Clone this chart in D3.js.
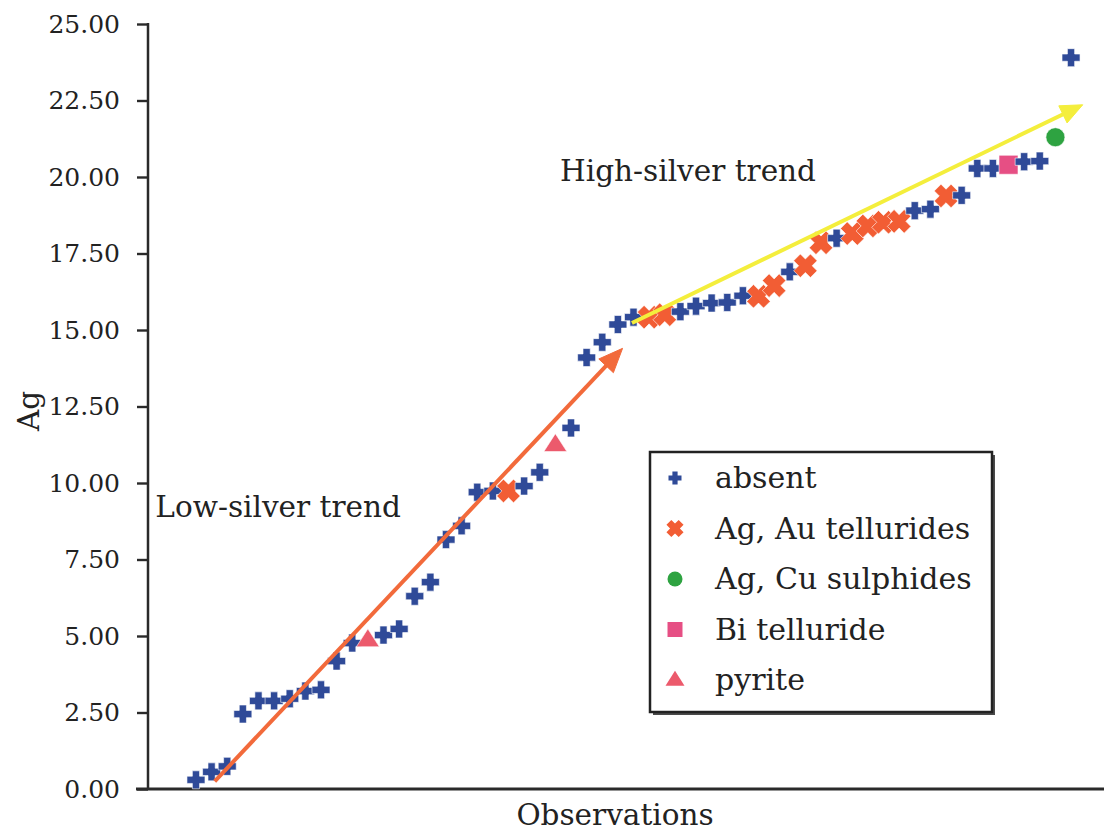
<!DOCTYPE html>
<html>
<head>
<meta charset="utf-8">
<script src="https://cdn.jsdelivr.net/npm/d3@7"></script>
<style>
  html, body { margin: 0; padding: 0; background: #ffffff; }
  svg { display: block; }
  text { font-family: "DejaVu Serif", "Liberation Serif", serif; fill: #222222; }
</style>
</head>
<body>
<svg id="chart" width="1104" height="832"></svg>
<script>
// Observation number (sorted by Ag content)
const observations = d3.range(1, 58);

// Ag content per observation
const agValues = [
  0.30, 0.56, 0.74, 2.45, 2.88, 2.88, 2.95, 3.20, 3.24, 4.18,
  4.77, 4.87, 5.03, 5.23, 6.30, 6.76, 8.15, 8.60, 9.70, 9.74,
  9.74, 9.90, 10.35, 11.25, 11.80, 14.10, 14.60, 15.18, 15.42, 15.42,
  15.50, 15.60, 15.78, 15.88, 15.90, 16.12, 16.10, 16.45, 16.90, 17.10,
  17.85, 18.00, 18.15, 18.40, 18.52, 18.55, 18.90, 18.95, 19.38, 19.40,
  20.28, 20.28, 20.40, 20.50, 20.52, 21.30, 23.90
];

// Associated mineral phase per observation
const mineralPhase = [
  "absent", "absent", "absent", "absent", "absent", "absent", "absent", "absent", "absent", "absent",
  "absent", "pyrite", "absent", "absent", "absent", "absent", "absent", "absent", "absent", "absent",
  "Ag, Au tellurides", "absent", "absent", "pyrite", "absent", "absent", "absent", "absent", "absent", "Ag, Au tellurides",
  "Ag, Au tellurides", "absent", "absent", "absent", "absent", "absent", "Ag, Au tellurides", "Ag, Au tellurides", "absent", "Ag, Au tellurides",
  "Ag, Au tellurides", "absent", "Ag, Au tellurides", "Ag, Au tellurides", "Ag, Au tellurides", "Ag, Au tellurides", "absent", "absent", "Ag, Au tellurides", "absent",
  "absent", "absent", "Bi telluride", "absent", "absent", "Ag, Cu sulphides", "absent"
];

// Legend order
const phaseNames = ["absent", "Ag, Au tellurides", "Ag, Cu sulphides", "Bi telluride", "pyrite"];

// Y axis ticks
const yTicks = [0, 2.5, 5, 7.5, 10, 12.5, 15, 17.5, 20, 22.5, 25];

// Trend arrows: [start observation, start Ag], [end observation, end Ag]
const lowTrend = [[2.2, 0.25], [28.3, 14.4]];
const highTrend = [[28.9, 15.23], [57.75, 22.36]];

// Trend labels: [observation, Ag]
const lowLabelAt = [-1.6, 8.88];
const highLabelAt = [24.3, 19.88];

// ---- styling ----
const phaseStyle = {
  "absent":            { shape: "plus",     color: "#2f4a98", size: 18, legendSize: 13 },
  "Ag, Au tellurides": { shape: "cross",    color: "#f25d34", size: 22, legendSize: 16 },
  "Ag, Cu sulphides":  { shape: "circle",   color: "#2ea341", size: 19, legendSize: 15 },
  "Bi telluride":      { shape: "square",   color: "#e64f84", size: 19, legendSize: 15 },
  "pyrite":            { shape: "triangle", color: "#ec5a6c", size: 23, legendSize: 19 }
};

const svg = d3.select("#chart");

const x = d3.scaleLinear().domain([-2.07, 59.11]).range([148, 1104]);
const y = d3.scaleLinear().domain([0, 25]).range([789, 24]);

// Marker path generator centered on (0,0)
function markerPath(shape, s) {
  const h = s / 2;
  if (shape === "plus" || shape === "cross") {
    const w = s / 5;
    const pts = [
      [-w, -h], [w, -h], [w, -w], [h, -w], [h, w], [w, w],
      [w, h], [-w, h], [-w, w], [-h, w], [-h, -w], [-w, -w]
    ];
    let p = pts;
    if (shape === "cross") {
      const c = Math.SQRT1_2;
      const k = 1.08;
      p = pts.map(([a, b]) => [k * (a * c - b * c), k * (a * c + b * c)]);
    }
    return "M" + p.map(d => d.join(",")).join("L") + "Z";
  }
  if (shape === "square") {
    return `M${-h},${-h}L${h},${-h}L${h},${h}L${-h},${h}Z`;
  }
  if (shape === "triangle") {
    const th = s * 0.78;
    return `M0,${-th * 0.62}L${h},${th * 0.38}L${-h},${th * 0.38}Z`;
  }
  // circle
  return `M${h},0A${h},${h} 0 1,1 ${-h},0A${h},${h} 0 1,1 ${h},0Z`;
}

// ---- axes ----
const yAxis = d3.axisLeft(y)
  .tickValues(yTicks)
  .tickFormat(d3.format(".2f"))
  .tickSize(11)
  .tickPadding(17);

const gy = svg.append("g").attr("transform", "translate(148,0)").call(yAxis);
gy.select(".domain").remove();
gy.selectAll(".tick line").attr("stroke", "#2a2a2a").attr("stroke-width", 2.4);
gy.selectAll(".tick text")
  .style("font-family", "'DejaVu Serif', serif")
  .style("font-size", "25px")
  .attr("fill", "#222222");

// spines: left and bottom
svg.append("line")
  .attr("x1", 148).attr("x2", 148)
  .attr("y1", y(25) - 1).attr("y2", y(0))
  .attr("stroke", "#2a2a2a").attr("stroke-width", 2.5);
svg.append("line")
  .attr("x1", 136).attr("x2", 1104)
  .attr("y1", y(0)).attr("y2", y(0))
  .attr("stroke", "#2a2a2a").attr("stroke-width", 3);

// axis titles
svg.append("text")
  .attr("x", 615).attr("y", 825)
  .attr("text-anchor", "middle")
  .style("font-size", "29.5px")
  .text("Observations");

svg.append("text")
  .attr("transform", "translate(39,411) rotate(-90)")
  .attr("text-anchor", "middle")
  .style("font-size", "29.5px")
  .text("Ag");

// ---- points ----
const points = observations.map((o, i) => ({ obs: o, ag: agValues[i], phase: mineralPhase[i] }));

svg.append("g").selectAll("path")
  .data(points)
  .join("path")
  .attr("transform", d => `translate(${x(d.obs)},${y(d.ag)})`)
  .attr("d", d => markerPath(phaseStyle[d.phase].shape, phaseStyle[d.phase].size))
  .attr("fill", d => phaseStyle[d.phase].color)
  .attr("stroke", "#ffffff")
  .attr("stroke-width", 0.6)
  .attr("stroke-linejoin", "round");

// ---- trend arrows ----
function drawArrow(seg, color, width, headLen, headWidth) {
  const x0 = x(seg[0][0]), y0 = y(seg[0][1]);
  const x1 = x(seg[1][0]), y1 = y(seg[1][1]);
  const dx = x1 - x0, dy = y1 - y0;
  const len = Math.hypot(dx, dy);
  const ux = dx / len, uy = dy / len;
  const bx = x1 - ux * headLen, by = y1 - uy * headLen;
  const g = svg.append("g");
  g.append("line")
    .attr("x1", x0).attr("y1", y0)
    .attr("x2", bx + ux * 2).attr("y2", by + uy * 2)
    .attr("stroke", color).attr("stroke-width", width);
  const px = -uy * headWidth / 2, py = ux * headWidth / 2;
  g.append("path")
    .attr("d", `M${x1},${y1}L${bx + px},${by + py}L${bx - px},${by - py}Z`)
    .attr("fill", color)
    .attr("stroke", color)
    .attr("stroke-width", 1)
    .attr("stroke-linejoin", "round");
}

drawArrow(lowTrend, "#f26a3b", 4, 24, 20);
drawArrow(highTrend, "#f4ee3c", 4, 22, 19);

// ---- trend labels ----
svg.append("text")
  .attr("x", x(lowLabelAt[0])).attr("y", y(lowLabelAt[1]))
  .style("font-size", "29.5px")
  .text("Low-silver trend");

svg.append("text")
  .attr("x", x(highLabelAt[0])).attr("y", y(highLabelAt[1]))
  .style("font-size", "29.5px")
  .text("High-silver trend");

// ---- legend ----
const legend = svg.append("g").attr("transform", "translate(650,452)");
legend.append("rect")
  .attr("x", 3).attr("y", 3).attr("width", 342).attr("height", 260)
  .attr("fill", "#4a4a4a");
legend.append("rect")
  .attr("x", 0).attr("y", 0).attr("width", 342).attr("height", 260)
  .attr("fill", "#ffffff")
  .attr("stroke", "#222222").attr("stroke-width", 2.5);

const rows = legend.selectAll("g.row")
  .data(phaseNames)
  .join("g")
  .attr("class", "row")
  .attr("transform", (d, i) => `translate(0,${26 + i * 50.5})`);

rows.append("path")
  .attr("transform", "translate(25,0)")
  .attr("d", d => markerPath(phaseStyle[d].shape, phaseStyle[d].legendSize))
  .attr("fill", d => phaseStyle[d].color);

rows.append("text")
  .attr("x", 65).attr("y", 10)
  .style("font-size", "30px")
  .text(d => d);
</script>
</body>
</html>
